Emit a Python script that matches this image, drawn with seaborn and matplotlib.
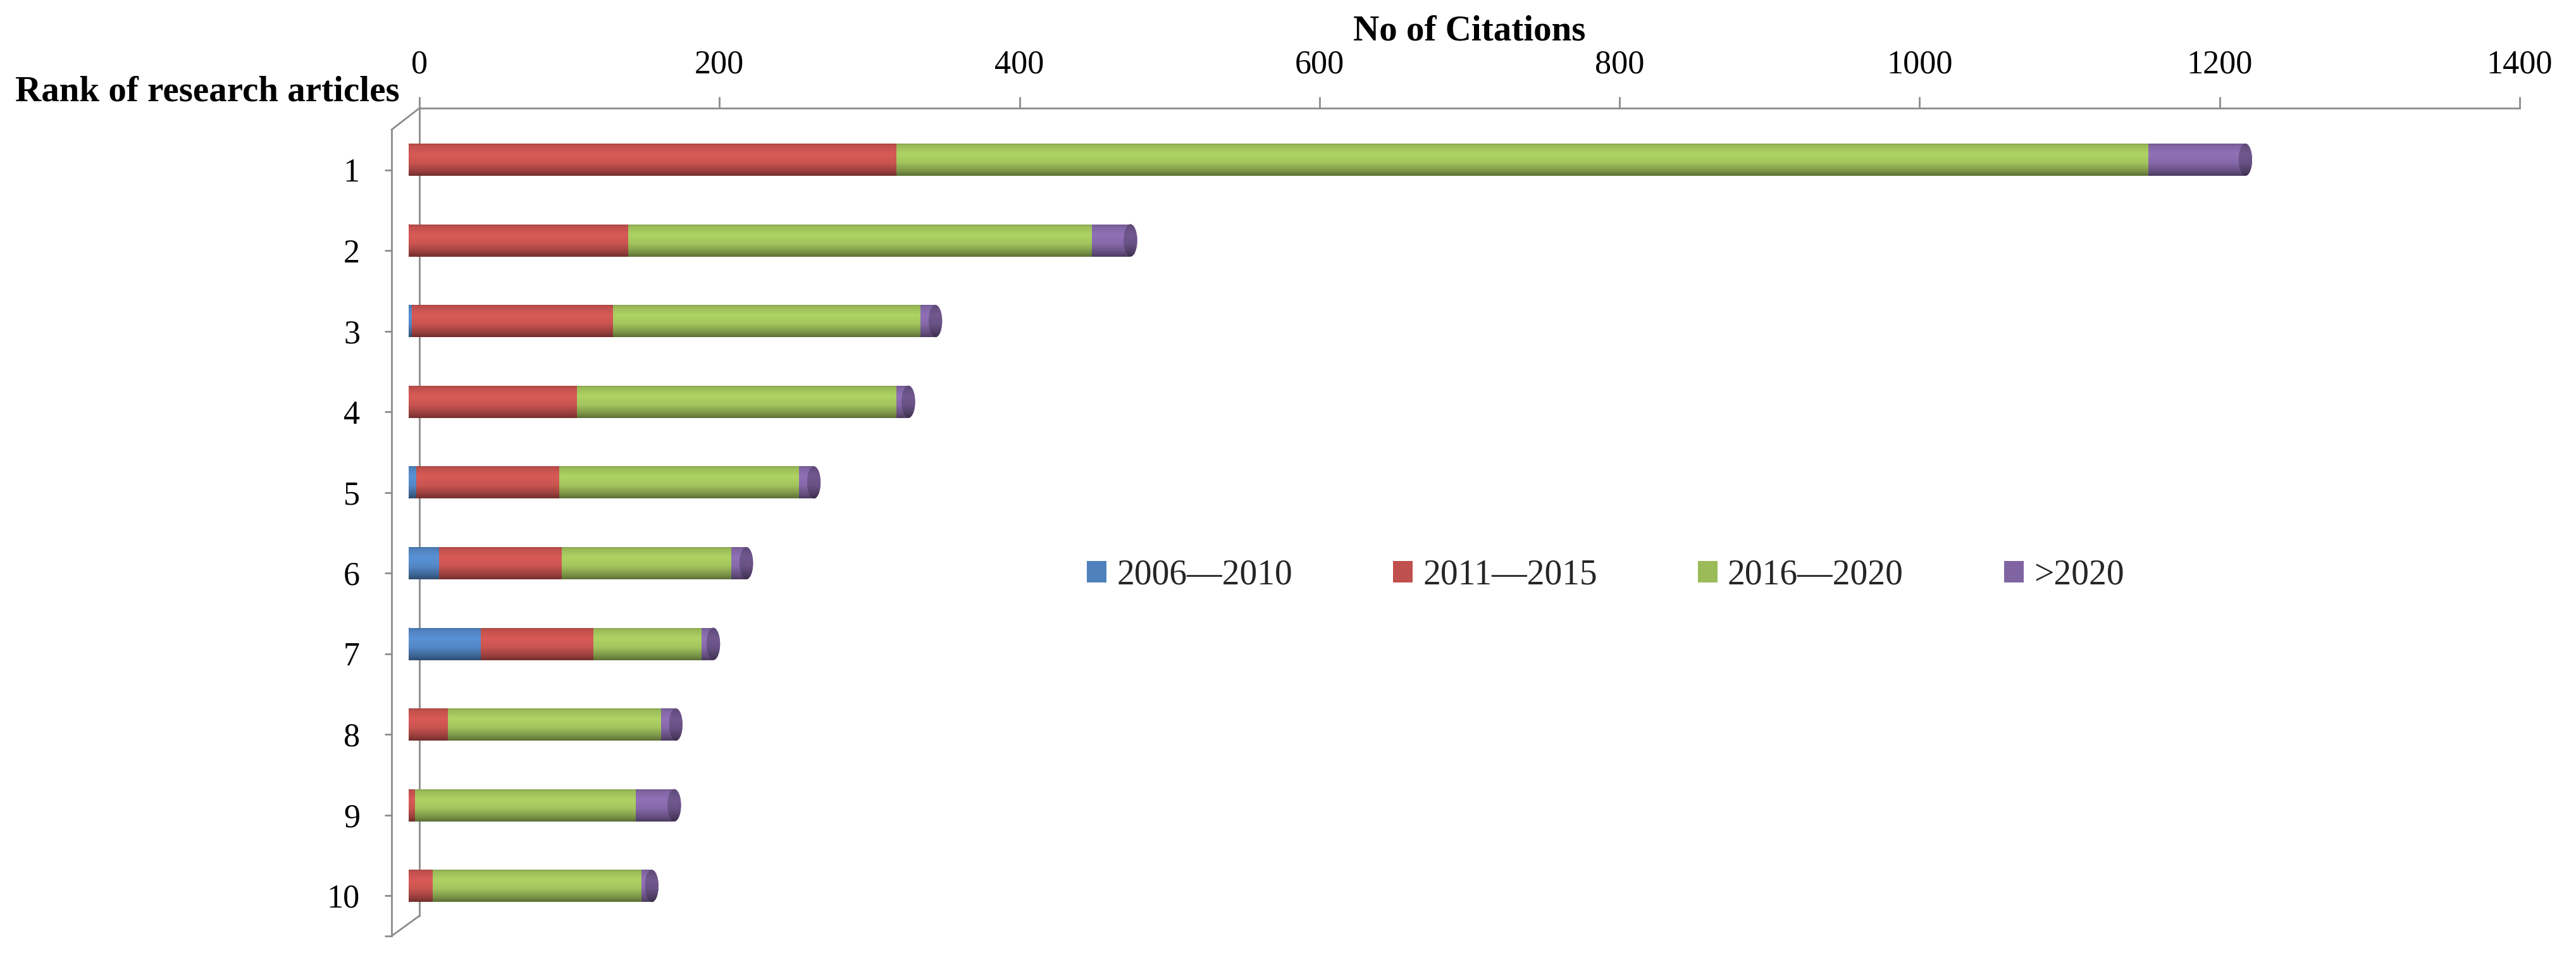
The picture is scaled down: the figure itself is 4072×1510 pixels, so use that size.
import numpy as np
import pandas as pd
import matplotlib
matplotlib.use("Agg")
import matplotlib.pyplot as plt
import matplotlib.colors as mcolors
from matplotlib.patches import Ellipse
from matplotlib.lines import Line2D
import seaborn as sns

# ---------------- data ----------------
ranks = ["1", "2", "3", "4", "5", "6", "7", "8", "9", "10"]
series_names = ["2006\u20142010", "2011\u20142015", "2016\u20142020", ">2020"]
c_2006_2010 = [0, 0, 2, 0, 5, 20, 48, 0, 0, 0]
c_2011_2015 = [325, 146, 134, 112, 95, 82, 75, 26, 4, 16]
c_2016_2020 = [834, 309, 205, 213, 160, 113, 72, 142, 147, 139]
c_after_2020 = [65, 26, 10, 8, 10, 10, 8, 10, 26, 7]
series_colors = ["#4F81BD", "#C0504D", "#9BBB59", "#8064A2"]
x_ticks = [0, 200, 400, 600, 800, 1000, 1200, 1400]
x_title = "No of Citations"
y_title = "Rank of research articles"

# ---------------- style ----------------
sns.set_theme(style="white")
plt.rcParams["font.family"] = ["Liberation Serif", "DejaVu Serif"]
AXIS_GRAY = "#8C8C8C"

W, H = 4073, 1510
fig = plt.figure(figsize=(W / 100, H / 100), dpi=100)


def fig_rect(x0, y_top, x1, y_bottom):
    return [x0 / W, 1 - y_bottom / H, (x1 - x0) / W, (y_bottom - y_top) / H]


ax_back = fig.add_axes(fig_rect(663, 171, 3983, 1448))
ax_front = fig.add_axes(fig_rect(619, 205, 3983, 1480))
ax_bar = fig.add_axes(fig_rect(646, 188.7, 3966.8, 1464.7))
for a in (ax_back, ax_front, ax_bar):
    a.patch.set_visible(False)

# ---------------- stacked cylinders ----------------
df = pd.DataFrame({"rank": ranks,
                   series_names[0]: c_2006_2010,
                   series_names[1]: c_2011_2015,
                   series_names[2]: c_2016_2020,
                   series_names[3]: c_after_2020})
vals = df[series_names].to_numpy(dtype=float)
cum = np.cumsum(vals, axis=1)
BAR_W = 0.40


def shade_img(color, n=96, dark=1.0):
    rgb = np.array(mcolors.to_rgb(color))
    t = np.linspace(0, 1, n)
    st = [0.0, 0.08, 0.33, 0.6, 0.85, 1.0]
    sf = [0.86, 1.0, 1.13, 1.05, 0.8, 0.6]
    f = np.interp(t, st, sf) * dark
    img = np.clip(rgb[None, :] * f[:, None], 0, 1)
    return img[:, None, :]


containers = {}
for k in reversed(range(4)):
    z = 3 + 2 * (3 - k)
    sns.barplot(data=df.assign(cum=cum[:, k]), x="cum", y="rank", order=ranks,
                orient="h", color=series_colors[k], saturation=1, width=BAR_W,
                linewidth=0, label=series_names[k], ax=ax_bar, zorder=z)
    cont = ax_bar.containers[-1]
    containers[k] = cont
    for rect in cont.patches:
        x0, y0 = rect.get_x(), rect.get_y()
        w, h = rect.get_width(), rect.get_height()
        if w <= 0:
            continue
        im = ax_bar.imshow(shade_img(series_colors[k]), extent=[x0, x0 + w, y0 + h, y0],
                           origin="upper", aspect="auto", interpolation="bilinear",
                           zorder=z + 1)
        im.set_clip_path(rect)
if ax_bar.get_legend() is not None:
    ax_bar.get_legend().remove()

# rounded ends of the cylinders
CAP_W = 9.0
for i, r in enumerate(ranks):
    first = next(k for k in range(4) if vals[i, k] > 0)
    yc = containers[first].patches[i].get_y() + BAR_W / 2
    # left rounded end
    el = Ellipse((0, yc), CAP_W, BAR_W, facecolor=series_colors[first], edgecolor="none", zorder=1)
    ax_bar.add_patch(el)
    im = ax_bar.imshow(shade_img(series_colors[first]),
                       extent=[-CAP_W / 2, CAP_W / 2, yc + BAR_W / 2, yc - BAR_W / 2],
                       origin="upper", aspect="auto", interpolation="bilinear", zorder=2)
    im.set_clip_path(el)
    # right end face
    last = max(k for k in range(4) if vals[i, k] > 0)
    xe = containers[last].patches[i].get_x() + containers[last].patches[i].get_width()
    er = Ellipse((xe, yc), CAP_W, BAR_W, facecolor=series_colors[last], edgecolor="none", zorder=20)
    ax_bar.add_patch(er)
    im = ax_bar.imshow(shade_img(series_colors[last], dark=0.78),
                       extent=[xe - CAP_W / 2, xe + CAP_W / 2, yc + BAR_W / 2, yc - BAR_W / 2],
                       origin="upper", aspect="auto", interpolation="bilinear", zorder=21)
    im.set_clip_path(er)

ax_bar.set_xlim(0, 1400)
ax_bar.set_ylim(len(ranks) - 0.5, -0.5)
ax_bar.axis("off")

# ---------------- back wall (value axis on top) ----------------
ax_back.set_xlim(0, 1400)
ax_back.set_ylim(0, 1)
ax_back.set_xticks(x_ticks, labels=[str(v) for v in x_ticks])
ax_back.set_yticks([])
ax_back.xaxis.tick_top()
ax_back.tick_params(axis="x", top=True, bottom=False, labeltop=True, labelbottom=False,
                    direction="out", length=13, width=2, color=AXIS_GRAY,
                    labelsize=37.5, labelcolor="black", pad=19)
for s in ("bottom", "right"):
    ax_back.spines[s].set_visible(False)
for s in ("top", "left"):
    ax_back.spines[s].set_color(AXIS_GRAY)
    ax_back.spines[s].set_linewidth(2)
ax_back.xaxis.set_label_position("top")
ax_back.set_xlabel(x_title, fontsize=41, fontweight="bold", color="black")
ax_back.xaxis.set_label_coords(0.5, 1 + (171 - 50) / 1277)
ax_back.xaxis.label.set_va("center")

# ---------------- front (category axis) ----------------
ax_front.set_xlim(0, 1)
ax_front.set_xticks([])
ax_front.set_ylim(len(ranks) - 0.5, -0.5)
ax_front.set_yticks(range(len(ranks)), labels=ranks)
ax_front.set_yticks([len(ranks) - 0.5], minor=True)
ax_front.tick_params(axis="y", which="both", left=True, direction="out", length=8, width=2,
                     color=AXIS_GRAY, labelsize=37.5, labelcolor="black", pad=28)
for s in ("top", "bottom", "right"):
    ax_front.spines[s].set_visible(False)
ax_front.spines["left"].set_color(AXIS_GRAY)
ax_front.spines["left"].set_linewidth(2)
ax_front.set_ylabel(y_title, rotation=0, fontsize=41, fontweight="bold", color="black",
                    ha="right", va="center")
ax_front.yaxis.set_label_coords((632 - 619) / (3983 - 619), 1 + (205 - 145) / 1275)

# depth connectors of the 3-D frame
for (xa, ya), (xb, yb) in (((663, 171), (619, 205)), ((663, 1448), (619, 1480))):
    fig.add_artist(Line2D([xa / W, xb / W], [1 - ya / H, 1 - yb / H],
                          transform=fig.transFigure, color=AXIS_GRAY, linewidth=2))

# ---------------- legend ----------------
handles = [containers[k] for k in range(4)]
fig.legend(handles, series_names, loc="center left",
           bbox_to_anchor=(1718 / W, 1 - 910 / H), ncol=4, frameon=False,
           fontsize=40, handlelength=0.56, handleheight=0.56, handletextpad=0.29,
           columnspacing=2.86, borderpad=0, borderaxespad=0)

fig.savefig("out.png", dpi=100)
